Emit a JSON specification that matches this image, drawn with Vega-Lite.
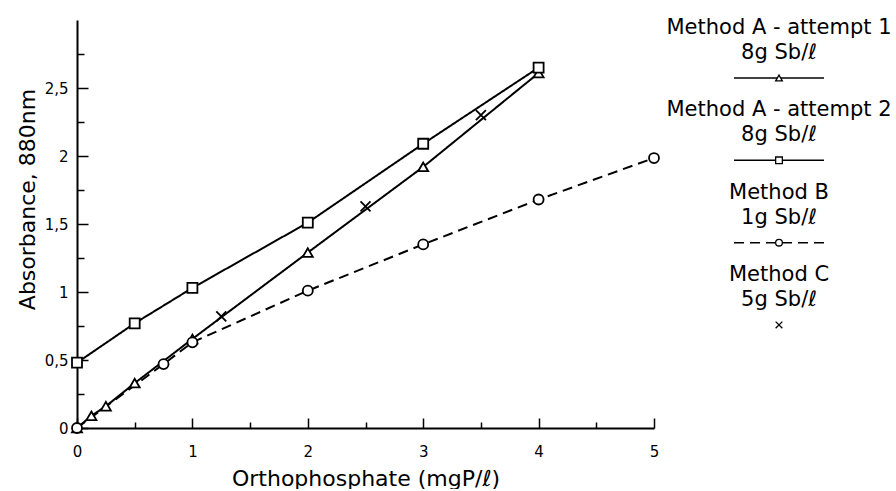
{
  "$schema": "https://vega.github.io/schema/vega-lite/v6.json",
  "padding": {"left": 16, "top": 17, "right": 0, "bottom": 0},
  "background": "white",
  "config": {
    "font": "DejaVu Sans",
    "view": {"stroke": null},
    "axis": {
      "domainColor": "black", "domainWidth": 2, "tickColor": "black", "tickWidth": 1.5,
      "labelColor": "black", "titleColor": "black", "grid": false, "labelFlush": false,
      "labelFont": "DejaVu Sans", "titleFont": "DejaVu Sans", "titleFontWeight": "normal", "titleFontSize": 22
    },
    "concat": {"spacing": 0}
  },
  "datasets": {
    "pts": [
      {"series": "A1", "x": 0, "y": 0},
      {"series": "A1", "x": 0.125, "y": 0.09},
      {"series": "A1", "x": 0.25, "y": 0.16},
      {"series": "A1", "x": 0.5, "y": 0.33},
      {"series": "A1", "x": 1, "y": 0.655},
      {"series": "A1", "x": 2, "y": 1.29},
      {"series": "A1", "x": 3, "y": 1.92},
      {"series": "A1", "x": 4, "y": 2.61},
      {"series": "A2", "x": 0, "y": 0.48},
      {"series": "A2", "x": 0.5, "y": 0.77},
      {"series": "A2", "x": 1, "y": 1.03},
      {"series": "A2", "x": 2, "y": 1.51},
      {"series": "A2", "x": 3, "y": 2.09},
      {"series": "A2", "x": 4, "y": 2.65},
      {"series": "B", "x": 0, "y": 0},
      {"series": "B", "x": 0.75, "y": 0.47},
      {"series": "B", "x": 1, "y": 0.63},
      {"series": "B", "x": 2, "y": 1.01},
      {"series": "B", "x": 3, "y": 1.35},
      {"series": "B", "x": 4, "y": 1.68},
      {"series": "B", "x": 5, "y": 1.985},
      {"series": "C", "x": 1.25, "y": 0.82},
      {"series": "C", "x": 2.5, "y": 1.63},
      {"series": "C", "x": 3.5, "y": 2.3}
    ],
    "legend": [
      {"series": "A1", "label": ["Method A - attempt 1", "8g Sb/ℓ"]},
      {"series": "A2", "label": ["Method A - attempt 2", "8g Sb/ℓ"]},
      {"series": "B", "label": ["Method B", "1g Sb/ℓ"]},
      {"series": "C", "label": ["Method C", "5g Sb/ℓ"]}
    ]
  },
  "hconcat": [
    {
      "width": 577,
      "height": 408,
      "data": {"name": "pts"},
      "resolve": {"axis": {"x": "independent", "y": "independent"}},
      "layer": [
        {
          "transform": [{"filter": "datum.series != 'C'"}],
          "mark": {"type": "line", "color": "black", "strokeWidth": 2},
          "encoding": {
            "x": {"field": "x", "type": "quantitative", "scale": {"domain": [0, 5], "nice": false},
              "axis": {"orient": "bottom", "values": [0, 1, 2, 3, 4, 5], "tickSize": -10, "labelPadding": 26, "labelFontSize": 15, "title": "Orthophosphate (mgP/ℓ)", "titlePadding": 9, "labelExpr": "replace(format(datum.value, '~g'), '.', ',')"}},
            "y": {"field": "y", "type": "quantitative", "scale": {"domain": [0, 3], "nice": false},
              "axis": {"orient": "left", "values": [0, 0.5, 1, 1.5, 2, 2.5], "tickSize": -11, "labelPadding": 20, "labelFontSize": 15, "title": "Absorbance, 880nm", "titlePadding": 5, "titleY": 179, "labelExpr": "replace(format(datum.value, '~g'), '.', ',')"}},
            "strokeDash": {"field": "series", "type": "nominal", "scale": {"domain": ["A1", "A2", "B"], "range": [[1, 0], [1, 0], [10, 6]]}, "legend": null}
          }
        },
        {
          "mark": {"type": "point", "filled": true, "fill": "white", "stroke": "black", "strokeWidth": 1.8, "size": 100, "opacity": 1},
          "encoding": {
            "x": {"field": "x", "type": "quantitative", "scale": {"domain": [0, 5], "nice": false},
              "axis": {"orient": "bottom", "values": [0.5, 1.5, 2.5, 3.5, 4.5], "tickSize": -6, "labels": false, "domain": false, "title": null}},
            "y": {"field": "y", "type": "quantitative", "scale": {"domain": [0, 3], "nice": false},
              "axis": {"orient": "left", "values": [0.25, 0.75, 1.25, 1.75, 2.25, 2.75], "tickSize": -7, "labels": false, "domain": false, "title": null}},
            "shape": {"field": "series", "type": "nominal", "scale": {"domain": ["A1", "A2", "B", "C"], "range": ["triangle-up", "square", "circle", "M-1,-1L1,1M-1,1L1,-1"]}, "legend": null}
          }
        }
      ]
    },
    {
      "width": 232,
      "height": 363,
      "data": {"name": "legend"},
      "layer": [
        {
          "mark": {"type": "text", "fontSize": 21, "baseline": "middle", "align": "center", "dy": -50, "lineHeight": 25, "color": "black", "font": "DejaVu Sans"},
          "encoding": {
            "x": {"datum": 0.5, "type": "quantitative", "scale": {"domain": [0, 1]}, "axis": null},
            "y": {"field": "series", "type": "nominal", "scale": {"type": "point", "padding": 0.705, "domain": ["A1", "A2", "B", "C"]}, "axis": null},
            "text": {"field": "label"}
          }
        },
        {
          "transform": [{"filter": "datum.series != 'C'"}],
          "mark": {"type": "rule", "color": "black", "strokeWidth": 1.5},
          "encoding": {
            "x": {"datum": 0.306, "type": "quantitative"},
            "x2": {"datum": 0.694},
            "y": {"field": "series", "type": "nominal"},
            "strokeDash": {"field": "series", "type": "nominal", "scale": {"domain": ["A1", "A2", "B"], "range": [[1, 0], [1, 0], [7, 5]]}, "legend": null}
          }
        },
        {
          "mark": {"type": "point", "filled": true, "fill": "white", "stroke": "black", "strokeWidth": 1.3, "size": 45, "opacity": 1},
          "encoding": {
            "x": {"datum": 0.5, "type": "quantitative"},
            "y": {"field": "series", "type": "nominal"},
            "shape": {"field": "series", "type": "nominal", "scale": {"domain": ["A1", "A2", "B", "C"], "range": ["triangle-up", "square", "circle", "M-1,-1L1,1M-1,1L1,-1"]}, "legend": null}
          }
        }
      ]
    }
  ]
}
